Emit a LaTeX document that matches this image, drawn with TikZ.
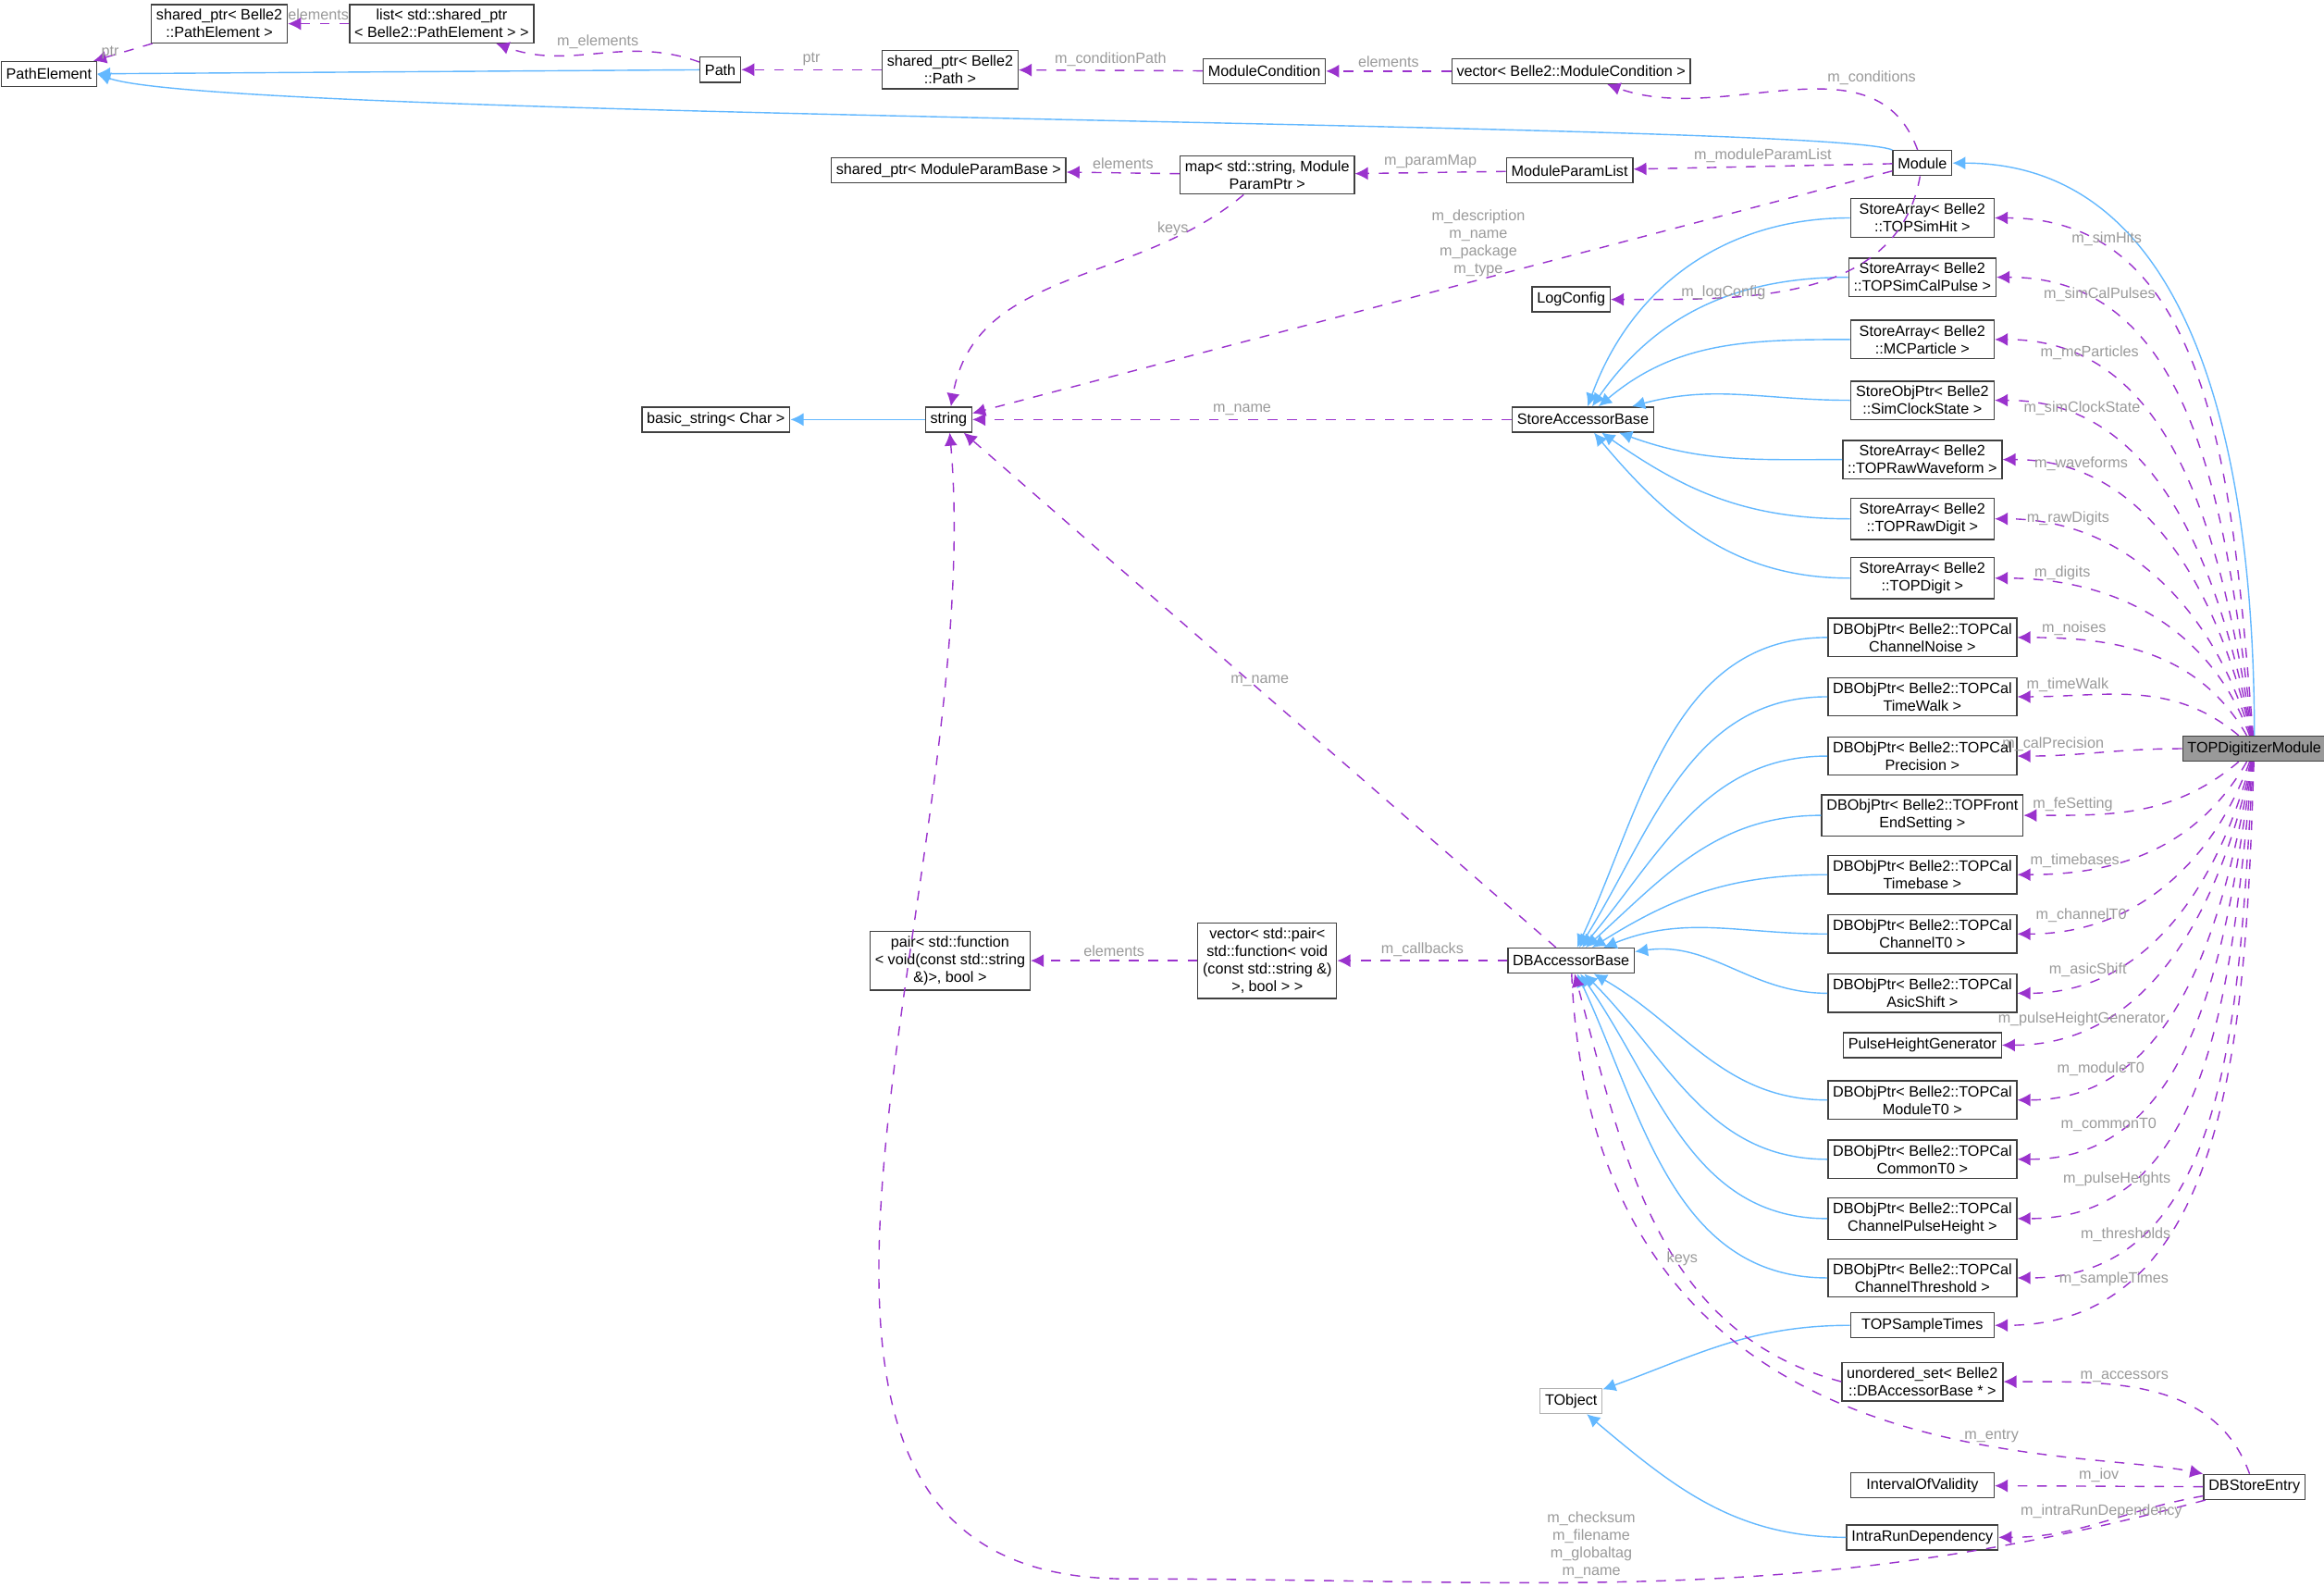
\documentclass[tikz,border=0pt]{standalone}
\usepackage{fontspec}
\setmainfont{Liberation Sans}
\usetikzlibrary{arrows.meta}
\definecolor{inhblue}{HTML}{63B8FF}
\definecolor{usepurple}{HTML}{9A32CD}
\definecolor{lblgray}{HTML}{9A9A9A}
\tikzset{
  box/.style={draw=black!75, fill=white, align=center, inner sep=1.5pt,
    minimum height=0.27cm, font=\fontsize{4.6}{5.4}\selectfont},
  col/.style={box, minimum width=1.55cm},
  inherit/.style={draw=inhblue, -{Latex[length=4pt,width=4pt]}},
  member/.style={draw=usepurple, dashed, -{Latex[length=4pt,width=4pt]}},
  lbl/.style={text=lblgray, align=center, inner sep=1pt, font=\fontsize{4.6}{5.4}\selectfont}
}
\begin{document}
\begin{tikzpicture}[x=0.016cm,y=-0.016cm]
  \useasboundingbox (0,0) rectangle (1568,1070);
  % path classes
  \node (pel) at (33,50) [box] {PathElement};
  \node (spe) at (148,16) [box] {shared\_ptr< Belle2\\::PathElement >};
  \node (lpe) at (298,16) [box] {list< std::shared\_ptr\\< Belle2::PathElement > >};
  \node (pth) at (486,47) [box] {Path};
  \node (spt) at (641,47) [box] {shared\_ptr< Belle2\\::Path >};
  \node (mcd) at (853,48) [box] {ModuleCondition};
  \node (vmc) at (1060,48) [box] {vector< Belle2::ModuleCondition >};
  \node (mod) at (1297,110) [box] {Module};
  \node (smp) at (640,115) [box] {shared\_ptr< ModuleParamBase >};
  \node (map) at (855,118) [box] {map< std::string, Module\\ParamPtr >};
  \node (mpl) at (1059,115) [box] {ModuleParamList};
  \node (lgc) at (1060,202) [box] {LogConfig};
  \node (bst) at (483,283) [box] {basic\_string< Char >};
  \node (str) at (640,283) [box] {string};
  \node (sab) at (1068,283) [box] {StoreAccessorBase};
  \node (dba) at (1060,648) [box] {DBAccessorBase};
  \node (vpr) at (855,648) [box] {vector< std::pair<\\std::function< void\\(const std::string \&)\\>, bool > >};
  \node (pfn) at (641,648) [box] {pair< std::function\\< void(const std::string\\\&)>, bool >};
  \node (tob) at (1060,945) [box, draw=black!30] {TObject};
  % right column
  \node (sth) at (1297,147) [col] {StoreArray< Belle2\\::TOPSimHit >};
  \node (scp) at (1297,187) [col] {StoreArray< Belle2\\::TOPSimCalPulse >};
  \node (mcp) at (1297,229) [col] {StoreArray< Belle2\\::MCParticle >};
  \node (scs) at (1297,270) [col] {StoreObjPtr< Belle2\\::SimClockState >};
  \node (rwf) at (1297,310) [col] {StoreArray< Belle2\\::TOPRawWaveform >};
  \node (rdg) at (1297,350) [col] {StoreArray< Belle2\\::TOPRawDigit >};
  \node (dig) at (1297,390) [col] {StoreArray< Belle2\\::TOPDigit >};
  \node (cno) at (1297,430) [col] {DBObjPtr< Belle2::TOPCal\\ChannelNoise >};
  \node (twk) at (1297,470) [col] {DBObjPtr< Belle2::TOPCal\\TimeWalk >};
  \node (prc) at (1297,510) [col] {DBObjPtr< Belle2::TOPCal\\Precision >};
  \node (fes) at (1297,550) [col] {DBObjPtr< Belle2::TOPFront\\EndSetting >};
  \node (tbs) at (1297,590) [col] {DBObjPtr< Belle2::TOPCal\\Timebase >};
  \node (ct0) at (1297,630) [col] {DBObjPtr< Belle2::TOPCal\\ChannelT0 >};
  \node (ash) at (1297,670) [col] {DBObjPtr< Belle2::TOPCal\\AsicShift >};
  \node (phg) at (1297,705) [col] {PulseHeightGenerator};
  \node (mt0) at (1297,742) [col] {DBObjPtr< Belle2::TOPCal\\ModuleT0 >};
  \node (cmt) at (1297,782) [col] {DBObjPtr< Belle2::TOPCal\\CommonT0 >};
  \node (cph) at (1297,822) [col] {DBObjPtr< Belle2::TOPCal\\ChannelPulseHeight >};
  \node (cth) at (1297,862) [col] {DBObjPtr< Belle2::TOPCal\\ChannelThreshold >};
  \node (sts) at (1297,894) [col] {TOPSampleTimes};
  \node (ust) at (1297,932) [col] {unordered\_set< Belle2\\::DBAccessorBase * >};
  \node (iov) at (1297,1002) [col] {IntervalOfValidity};
  \node (ird) at (1297,1037) [col] {IntraRunDependency};
  \node (tdm) at (1521,505) [box, fill=black!40] {TOPDigitizerModule};
  \node (dbs) at (1521,1003) [box] {DBStoreEntry};
  \coordinate (bend) at (760,1065);
  % inheritance
  \draw [inherit] (pth) -- (pel);
  \draw [inherit] (mod.north west) .. controls (1230,82) and (150,80) .. (pel.east);
  \draw [inherit] (tdm) to[out=90,in=0] (mod);
  \draw [inherit] (str) -- (bst);
  \foreach \n/\i in {sth/70,scp/55,mcp/40,scs/15,rwf/-20,rdg/-35,dig/-50}
    \draw [inherit] (\n) to[out=180,in=\i] (sab);
  \foreach \n/\i in {cno/65,twk/58,prc/50,fes/42,tbs/32,ct0/22,ash/8,mt0/-30,cmt/-45,cph/-55,cth/-65}
    \draw [inherit] (\n) to[out=180,in=\i] (dba);
  \draw [inherit] (sts) to[out=180,in=20] (tob);
  \draw [inherit] (ird) to[out=180,in=-40] (tob);
  % members
  \draw [member] (spe) to node [lbl, left] {ptr} (pel);
  \draw [member] (lpe) to node [lbl, above] {elements} (spe);
  \draw [member] (pth) to[out=160,in=-20] node [lbl, above] {m\_elements} (lpe);
  \draw [member] (spt) to node [lbl, above] {ptr} (pth);
  \draw [member] (mcd) to node [lbl, above] {m\_conditionPath} (spt);
  \draw [member] (vmc) to node [lbl, above] {elements} (mcd);
  \draw [member] (mod) to[out=110,in=-20] node [lbl, above right, pos=0.4] {m\_conditions} (vmc);
  \draw [member] (map) to node [lbl, above] {elements} (smp);
  \draw [member] (mpl) to node [lbl, above] {m\_paramMap} (map);
  \draw [member] (mod) to node [lbl, above] {m\_moduleParamList} (mpl);
  \draw [member] (mod) to node [lbl, above, pos=0.45] {m\_description\\m\_name\\m\_package\\m\_type} (str);
  \draw [member] (mod) to[out=-100,in=0] node [lbl, left, pos=0.6] {m\_logConfig} (lgc);
  \draw [member] (map) to[out=220,in=80] node [lbl, left, pos=0.15] {keys} (str);
  \draw [member] (sab) to node [lbl, above] {m\_name} (str);
  \draw [member] (dba) to node [lbl, above, pos=0.5] {m\_name} (str);
  \draw [member] (dbs) to[out=195,in=0] node [lbl, above, pos=0.58] {m\_checksum\\m\_filename\\m\_globaltag\\m\_name} (bend) to[out=180,in=-85] (str);
  \draw [member] (vpr) to node [lbl, above] {elements} (pfn);
  \draw [member] (dba) to node [lbl, above] {m\_callbacks} (vpr);
  \draw [member] (ust.west) to[out=165,in=-75] node [lbl, above, pos=0.4] {keys} (dba);
  \draw [member] (dba) .. controls (1075,1000) and (1390,975) .. node [lbl, above, pos=0.68] {m\_entry} (dbs.north west);
  \draw [member] (dbs) to[out=110,in=0] node [lbl, above, pos=0.6] {m\_accessors} (ust);
  \draw [member] (dbs) to node [lbl, above] {m\_iov} (iov);
  \draw [member] (dbs) to[out=190,in=0] node [lbl, above, pos=0.5] {m\_intraRunDependency} (ird);
  \foreach \n/\l/\o in {sth/m\_simHits/95, scp/m\_simCalPulses/97, mcp/m\_mcParticles/99,
      scs/m\_simClockState/101, rwf/m\_waveforms/103, rdg/m\_rawDigits/106, dig/m\_digits/110,
      cno/m\_noises/120, twk/m\_timeWalk/140, prc/m\_calPrecision/180, fes/m\_feSetting/220,
      tbs/m\_timebases/240, ct0/m\_channelT0/250, ash/m\_asicShift/255, phg/m\_pulseHeightGenerator/258,
      mt0/m\_moduleT0/260, cmt/m\_commonT0/262, cph/m\_pulseHeights/264, cth/m\_thresholds/266,
      sts/m\_sampleTimes/268}
    \draw [member] (tdm) to[out=\o,in=0] node [lbl, above, pos=0.8] {\l} (\n);
\end{tikzpicture}
\end{document}
